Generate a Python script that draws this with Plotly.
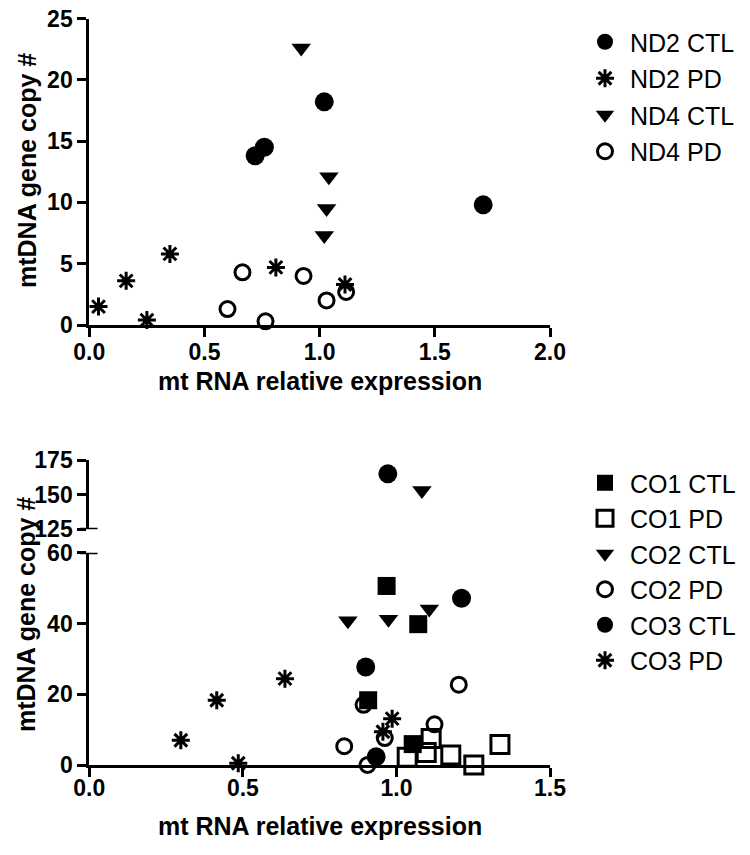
import plotly.graph_objects as go

# ---------------- data ----------------
# Top panel: ND2 / ND4
nd2_ctl_x = [0.72, 0.76, 1.02, 1.71]
nd2_ctl_y = [13.8, 14.5, 18.2, 9.8]
nd2_pd_x = [0.04, 0.16, 0.25, 0.35, 0.81, 1.11]
nd2_pd_y = [1.5, 3.6, 0.4, 5.8, 4.7, 3.3]
nd4_ctl_x = [0.92, 1.04, 1.03, 1.02]
nd4_ctl_y = [22.6, 12.1, 9.5, 7.3]
nd4_pd_x = [0.60, 0.665, 0.765, 0.93, 1.03, 1.115]
nd4_pd_y = [1.3, 4.3, 0.3, 4.0, 2.0, 2.7]

# Bottom panel: CO1 / CO2 / CO3
co1_ctl_x = [0.968, 1.071, 0.908, 1.053]
co1_ctl_y = [50.6, 39.8, 18.3, 5.9]
co1_pd_x = [1.035, 1.097, 1.113, 1.177, 1.252, 1.337]
co1_pd_y = [2.2, 3.5, 7.5, 2.8, 0.0, 5.8]
co2_ctl_x = [1.083, 0.842, 0.974, 1.107]
co2_ctl_y = [153.0, 40.8, 41.2, 44.1]
co2_pd_x = [0.893, 0.962, 0.83, 0.906, 1.124, 1.203]
co2_pd_y = [17.0, 7.6, 5.3, 0.0, 11.5, 22.7]
co3_ctl_x = [0.972, 1.212, 0.90, 0.934]
co3_ctl_y = [165.0, 47.1, 27.7, 2.3]
co3_pd_x = [0.298, 0.415, 0.637, 0.485, 0.986, 0.956]
co3_pd_y = [7.0, 18.3, 24.4, 0.5, 13.1, 9.4]

x_title = "mt RNA relative expression"
y_title = "mtDNA gene copy #"
break_low = 60
break_high = 125

# ---------------- layout helpers ----------------
W, H = 750, 855
OFF = 8  # page body margin of the browser
FONT = "Liberation Sans, Arial, Helvetica, sans-serif"


def px(x):
    return (x - OFF) / W


def py(y):
    return 1 - (y - OFF) / H


STYLES = {
    "fcircle": dict(symbol="circle", size=19, color="black"),
    "ast": dict(symbol="asterisk-open", size=15, color="black",
                line=dict(width=3, color="black")),
    "tri": dict(symbol="triangle-down", size=17, color="black"),
    "ocircle": dict(symbol="circle-open", size=15, color="black",
                    line=dict(width=3, color="black")),
    "fsquare": dict(symbol="square", size=18, color="black"),
    "osquare": dict(symbol="square-open", size=18, color="black",
                    line=dict(width=3, color="black")),
}

fig = go.Figure()

top_series = [
    ("ND2 CTL", nd2_ctl_x, nd2_ctl_y, "fcircle"),
    ("ND2 PD", nd2_pd_x, nd2_pd_y, "ast"),
    ("ND4 CTL", nd4_ctl_x, nd4_ctl_y, "tri"),
    ("ND4 PD", nd4_pd_x, nd4_pd_y, "ocircle"),
]
for name, xs, ys, st in top_series:
    fig.add_trace(go.Scatter(
        x=xs, y=ys, mode="markers", name=name, marker=STYLES[st],
        xaxis="x", yaxis="y", legend="legend", legendgroup=name,
        cliponaxis=False))

bottom_series = [
    ("CO1 CTL", co1_ctl_x, co1_ctl_y, "fsquare"),
    ("CO1 PD", co1_pd_x, co1_pd_y, "osquare"),
    ("CO2 CTL", co2_ctl_x, co2_ctl_y, "tri"),
    ("CO2 PD", co2_pd_x, co2_pd_y, "ocircle"),
    ("CO3 CTL", co3_ctl_x, co3_ctl_y, "fcircle"),
    ("CO3 PD", co3_pd_x, co3_pd_y, "ast"),
]
for name, xs, ys, st in bottom_series:
    lo = [(a, b) for a, b in zip(xs, ys) if b <= break_low]
    hi = [(a, b) for a, b in zip(xs, ys) if b >= break_high]
    fig.add_trace(go.Scatter(
        x=[a for a, _ in lo], y=[b for _, b in lo], mode="markers",
        name=name, marker=STYLES[st], xaxis="x2", yaxis="y3",
        legend="legend2", legendgroup=name, cliponaxis=False))
    if hi:
        fig.add_trace(go.Scatter(
            x=[a for a, _ in hi], y=[b for _, b in hi], mode="markers",
            name=name, marker=STYLES[st], xaxis="x2", yaxis="y4",
            legend="legend2", legendgroup=name, showlegend=False,
            cliponaxis=False))

tickfont = dict(family=FONT, size=23, color="black", weight="bold")
axis_common = dict(showline=True, linewidth=3, linecolor="black",
                   ticks="outside", ticklen=9, tickwidth=3,
                   tickcolor="black", showgrid=False, zeroline=False,
                   tickfont=tickfont, automargin=False,
                   ticklabeloverflow="allow")

x_dom = [px(89.3), px(550)]

fig.update_layout(
    width=W, height=H,
    margin=dict(l=0, r=0, t=0, b=0, autoexpand=False),
    paper_bgcolor="white", plot_bgcolor="white",
    xaxis=dict(domain=x_dom, anchor="y", range=[0, 2], dtick=0.5,
               tickformat=".1f", ticklabelstandoff=-5, **axis_common),
    yaxis=dict(domain=[py(325), py(18.5)], anchor="x", range=[0, 25],
               dtick=5, **axis_common),
    xaxis2=dict(domain=x_dom, anchor="y3", range=[0, 1.5], dtick=0.5,
                tickformat=".1f", ticklabelstandoff=-9, **axis_common),
    yaxis3=dict(domain=[py(765), py(552.7)], anchor="x2",
                range=[0, break_low], dtick=20, **axis_common),
    yaxis4=dict(domain=[py(529.3), py(460)], anchor="x2",
                range=[break_high, 175], tickvals=[125, 150, 175],
                **axis_common),
    legend=dict(x=px(580), y=py(19), xanchor="left", yanchor="top",
                font=dict(family=FONT, size=25, color="black"),
                bgcolor="rgba(0,0,0,0)", tracegroupgap=1, itemwidth=40),
    legend2=dict(x=px(580), y=py(460), xanchor="left", yanchor="top",
                 font=dict(family=FONT, size=25, color="black"),
                 bgcolor="rgba(0,0,0,0)", tracegroupgap=0, itemwidth=40),
    showlegend=True,
)

# axis titles
title_font = dict(family=FONT, size=25, color="black", weight="bold")
fig.add_annotation(text=x_title, xref="paper", yref="paper",
                   x=(x_dom[0] + x_dom[1]) / 2, y=py(381), showarrow=False,
                   xanchor="center", yanchor="middle", font=title_font)
fig.add_annotation(text=x_title, xref="paper", yref="paper",
                   x=(x_dom[0] + x_dom[1]) / 2, y=py(826), showarrow=False,
                   xanchor="center", yanchor="middle", font=title_font)
fig.add_annotation(text=y_title, xref="paper", yref="paper",
                   x=px(27), y=py(171), showarrow=False, textangle=-90,
                   xanchor="center", yanchor="middle", font=title_font)
fig.add_annotation(text=y_title, xref="paper", yref="paper",
                   x=px(26), y=py(615), showarrow=False, textangle=-90,
                   xanchor="center", yanchor="middle", font=title_font)

# axis-break caps
for yref, yv in (("y3", break_low), ("y4", break_high)):
    fig.add_shape(type="line", xref="x2 domain", yref=yref,
                  x0=-0.02, x1=0.018, y0=yv, y1=yv,
                  line=dict(color="black", width=3))

fig.write_html("out.html")
